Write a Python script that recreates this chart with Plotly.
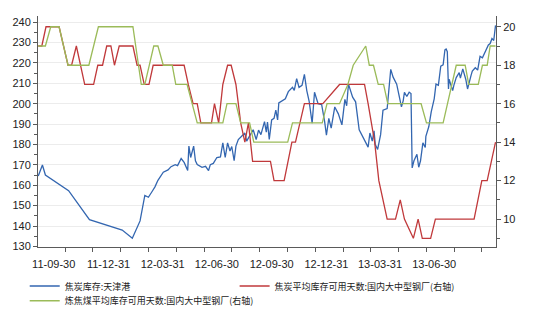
import plotly.graph_objects as go

# 焦炭库存:天津港 (left axis, 万吨)
blue_dates = ["2011-09-04","2011-09-11","2011-09-16","2011-10-25","2011-11-29","2012-01-23","2012-02-09",
    "2012-02-22","2012-03-01","2012-03-07","2012-03-14","2012-03-18","2012-03-23","2012-04-01","2012-04-09",
    "2012-04-14","2012-04-21","2012-04-25","2012-05-01","2012-05-06","2012-05-12","2012-05-14","2012-05-17",
    "2012-05-22","2012-05-25","2012-05-28","2012-06-05","2012-06-11","2012-06-16","2012-06-19","2012-06-24",
    "2012-06-30","2012-07-06","2012-07-10","2012-07-14","2012-07-18","2012-07-22","2012-07-25","2012-07-29",
    "2012-08-01","2012-08-05","2012-08-10","2012-08-16","2012-08-19","2012-08-24","2012-08-30","2012-09-04",
    "2012-09-08","2012-09-12","2012-09-18","2012-09-21","2012-09-23","2012-09-26","2012-09-30","2012-10-04",
    "2012-10-07","2012-10-10","2012-10-12","2012-10-23","2012-10-28","2012-11-04","2012-11-07","2012-11-11",
    "2012-11-15","2012-11-20","2012-11-24","2012-11-28","2012-12-02","2012-12-07","2012-12-11","2012-12-17",
    "2012-12-23","2012-12-28","2012-12-31","2013-01-04","2013-01-08","2013-01-14","2013-01-20","2013-01-26",
    "2013-01-31","2013-02-03","2013-02-06","2013-02-13","2013-02-18","2013-02-24","2013-03-04","2013-03-11",
    "2013-03-14","2013-03-18","2013-03-21","2013-03-23","2013-03-27","2013-04-01","2013-04-05","2013-04-12",
    "2013-04-18","2013-04-22","2013-04-28","2013-05-06","2013-05-09","2013-05-11","2013-05-15","2013-05-19",
    "2013-05-22","2013-05-24","2013-05-27","2013-06-01","2013-06-04","2013-06-07","2013-06-11","2013-06-15",
    "2013-06-16","2013-06-21","2013-06-25","2013-06-30","2013-07-03","2013-07-07","2013-07-11","2013-07-15",
    "2013-07-18","2013-07-20","2013-07-22","2013-07-24","2013-07-25","2013-07-28","2013-07-31","2013-08-02",
    "2013-08-06","2013-08-11","2013-08-13","2013-08-17","2013-08-22","2013-08-25","2013-08-27","2013-08-31",
    "2013-09-02","2013-09-07","2013-09-11","2013-09-15","2013-09-19","2013-09-23","2013-09-29","2013-10-02",
    "2013-10-05","2013-10-08","2013-10-11"]
blue_values = [164.5,169.9,165.0,157.3,143.1,138.0,134.0,
    142.5,155.0,154.1,157.3,159.2,162.4,166.4,167.5,
    169.1,170.1,169.6,173.1,171.2,167.2,179.2,173.6,
    179.2,172.0,170.1,168.8,169.3,167.2,170.1,170.7,
    173.6,173.9,180.8,173.6,180.8,176.8,179.0,172.0,
    179.2,182.4,184.0,185.6,181.6,184.0,187.2,182.4,
    187.0,184.8,191.2,186.0,191.0,182.5,192.0,192.8,
    196.8,192.0,200.4,202.4,205.9,208.0,206.5,212.3,
    208.0,209.0,214.4,206.4,201.1,190.4,205.6,200.0,
    199.5,191.2,184.5,192.8,188.0,198.4,195.0,189.6,
    202.1,199.0,209.6,203.2,200.9,187.2,182.9,178.7,
    185.6,181.6,186.7,180.0,177.6,184.8,196.8,197.6,
    216.8,213.0,209.6,198.4,201.5,205.6,203.5,205.6,
    205.0,168.5,172.0,175.2,168.8,172.0,180.8,178.5,
    184.0,188.8,196.0,202.4,209.6,209.0,218.4,219.0,
    226.4,226.8,225.5,207.2,212.0,209.0,206.4,209.0,
    212.8,215.2,212.5,217.1,212.0,207.2,210.0,214.0,
    216.0,217.6,216.5,223.2,222.5,224.8,228.8,229.5,
    232.0,231.0,238.4]

# 焦炭平均库存可用天数:国内大中型钢厂 (right axis, 天)
red_dates = ["2011-09-04","2011-09-10","2011-09-17","2011-09-23","2011-10-09","2011-10-24","2011-10-30",
    "2011-11-07","2011-11-21","2011-12-06","2011-12-13","2011-12-21","2011-12-28","2012-01-04","2012-01-10",
    "2012-01-18","2012-02-10","2012-02-17","2012-02-22","2012-02-29","2012-03-08","2012-03-15","2012-05-06",
    "2012-05-13","2012-05-21","2012-05-28","2012-06-03","2012-06-21","2012-06-26","2012-07-03","2012-07-10",
    "2012-07-18","2012-07-24","2012-08-01","2012-08-09","2012-08-16","2012-08-22","2012-08-29","2012-09-28",
    "2012-10-04","2012-10-21","2012-11-03","2012-11-09","2012-11-24","2012-12-25","2013-01-22","2013-03-05",
    "2013-03-11","2013-03-22","2013-03-29","2013-04-12","2013-04-26","2013-05-04","2013-05-11","2013-05-26",
    "2013-06-03","2013-06-10","2013-06-24","2013-07-02","2013-09-05","2013-09-18","2013-09-27","2013-10-11"]
red_values = [19,19,20,20,20,18,18,
    19,17,17,18,18,19,19,18,
    19,19,18,18,17,17,18,18,
    17,16,16,15,15,16,15,17,
    18,18,17,15,14,15,13,13,
    12,12,14,14,16,16,17,17,
    16,14,12,10,10,11,10,9,
    10,9,9,10,10,12,12,14]

# 炼焦煤平均库存可用天数:国内大中型钢厂 (right axis, 天)
green_dates = ["2011-09-04","2011-09-16","2011-09-25","2011-10-09","2011-10-24","2011-11-28","2011-12-14",
    "2012-02-10","2012-02-24","2012-03-01","2012-03-16","2012-03-23","2012-04-01","2012-04-16","2012-04-22",
    "2012-05-11","2012-05-28","2012-07-10","2012-07-17","2012-08-01","2012-08-09","2012-08-24","2012-08-31",
    "2012-10-27","2012-11-04","2012-12-24","2013-01-01","2013-01-22","2013-02-05","2013-02-14","2013-03-07",
    "2013-03-13","2013-03-20","2013-03-28","2013-04-06","2013-04-13","2013-06-08","2013-06-17","2013-07-15",
    "2013-08-06","2013-08-21","2013-08-27","2013-09-12","2013-09-19","2013-09-27","2013-10-02","2013-10-11"]
green_values = [19,19,20,20,18,18,20,
    20,17,17,19,19,18,18,17,
    17,15,15,16,16,15,15,14,
    14,15,15,16,16,17,18,19,
    18,18,17,17,16,16,15,15,
    18,18,17,17,18,18,19,19]

tick_dates = ["2011-09-30","2011-12-31","2012-03-31","2012-06-30","2012-09-30","2012-12-31","2013-03-31","2013-06-30"]
tick_labels = ["11-09-30","11-12-31","12-03-31","12-06-30","12-09-30","12-12-31","13-03-31","13-06-30"]
left_ticks = [130,140,150,160,170,180,190,200,210,220,230,240]
right_ticks = [10,12,14,16,18,20]

names = ["焦炭库存:天津港", "焦炭平均库存可用天数:国内大中型钢厂(右轴)", "炼焦煤平均库存可用天数:国内大中型钢厂(右轴)"]
colors = ["#3366b0", "#c0393b", "#9bbb59"]

fig = go.Figure()
fig.add_trace(go.Scatter(x=blue_dates, y=blue_values, mode="lines", name=names[0], legend="legend",
                         line=dict(color=colors[0], width=1.3)))
fig.add_trace(go.Scatter(x=red_dates, y=red_values, mode="lines", name=names[1], yaxis="y2", legend="legend3",
                         line=dict(color=colors[1], width=1.3)))
fig.add_trace(go.Scatter(x=green_dates, y=green_values, mode="lines", name=names[2], yaxis="y2", legend="legend2",
                         line=dict(color=colors[2], width=1.3)))

axis_font = dict(family="Liberation Sans, Arial, sans-serif", size=11, color="#222222")
legend_font = dict(family="Noto Sans CJK SC, sans-serif", size=9, color="#222222")
fig.update_layout(
    width=539, height=327,
    margin=dict(l=29, r=43, t=16, b=75),
    paper_bgcolor="white", plot_bgcolor="white",
    showlegend=True,
    legend=dict(orientation="h", x=-0.029, y=-0.106, xanchor="left", yanchor="top",
                font=legend_font, itemwidth=30, bgcolor="rgba(0,0,0,0)"),
    legend3=dict(orientation="h", x=0.4293, y=-0.106, xanchor="left", yanchor="top",
                 font=legend_font, itemwidth=30, bgcolor="rgba(0,0,0,0)"),
    legend2=dict(orientation="h", x=-0.029, y=-0.17, xanchor="left", yanchor="top",
                 font=legend_font, itemwidth=30, bgcolor="rgba(0,0,0,0)"),
    xaxis=dict(type="date", range=["2011-09-03 14:00", "2013-10-11 19:00"],
               tickvals=tick_dates, ticktext=tick_labels, ticks="", showgrid=False,
               showline=True, linecolor="#5a5a5a", linewidth=1, tickfont=axis_font,
               ticklabelstandoff=7,
               minor=dict(ticks="outside", ticklen=4, tickcolor="#5a5a5a",
                          tick0="2011-09-02 12:00", dtick=46.67 * 86400000, showgrid=False)),
    yaxis=dict(range=[129.7, 243.0], tickvals=left_ticks, ticks="outside", ticklen=4,
               tickcolor="#5a5a5a", showline=True, linecolor="#5a5a5a", gridcolor="#ececec",
               zeroline=False, tickfont=axis_font,
               minor=dict(ticks="outside", ticklen=3, dtick=5, tickcolor="#5a5a5a", showgrid=False)),
    yaxis2=dict(range=[8.55, 20.56], tickvals=right_ticks, overlaying="y", side="right",
                ticks="outside", ticklen=4, tickcolor="#5a5a5a", showline=True, linecolor="#5a5a5a",
                showgrid=False, zeroline=False, tickfont=axis_font,
                minor=dict(ticks="outside", ticklen=3, dtick=1, tickcolor="#5a5a5a", showgrid=False)),
)

fig.write_html("out.html")
